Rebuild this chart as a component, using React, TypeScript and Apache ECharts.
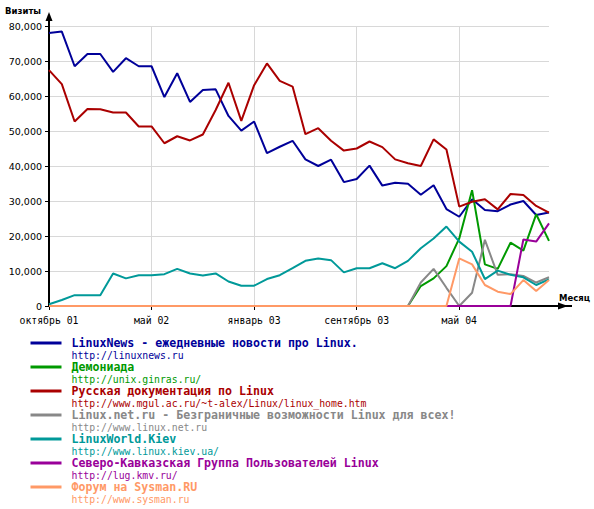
import React, { useEffect, useRef } from "react";
import * as echarts from "echarts";

const categories = [
  "1", "2", "3", "4", "5", "6", "7", "8", "9", "10",
  "11", "12", "13", "14", "15", "16", "17", "18", "19", "20",
  "21", "22", "23", "24", "25", "26", "27", "28", "29", "30",
  "31", "32", "33", "34", "35", "36", "37", "38", "39", "40",
];
const tickIndices = [0, 8, 16, 24, 32];
const tickLabels = ["октябрь 01", "май 02", "январь 03", "сентябрь 03", "май 04"];

const seriesNames = [
  "LinuxNews - ежедневные новости про Linux.",
  "Демониада",
  "Русская документация по Linux",
  "Linux.net.ru - Безграничные возможности Linux для всех!",
  "LinuxWorld.Kiev",
  "Северо-Кавказская Группа Пользователей Linux",
  "Форум на Sysman.RU",
];
const seriesUrls = [
  "http://linuxnews.ru",
  "http://unix.ginras.ru/",
  "http://www.mgul.ac.ru/~t-alex/Linux/linux_home.htm",
  "http://www.linux.net.ru",
  "http://www.linux.kiev.ua/",
  "http://lug.kmv.ru/",
  "http://www.sysman.ru",
];
const seriesColors = ["#000099", "#009900", "#aa0000", "#888888", "#009999", "#990099", "#ff9966"];

const linuxNews = [78000, 78400, 68500, 72000, 72000, 66900, 70800, 68500, 68500, 59700, 66500, 58300, 61700, 61900, 54300, 50100, 52700, 43700, 45500, 47200, 41900, 40000, 41800, 35400, 36300, 40100, 34400, 35200, 34900, 31800, 34500, 27700, 25500, 30500, 27400, 27100, 29000, 30000, 26000, 26700];
const demoniada = [0, 0, 0, 0, 0, 0, 0, 0, 0, 0, 0, 0, 0, 0, 0, 0, 0, 0, 0, 0, 0, 0, 0, 0, 0, 0, 0, 0, 0, 5700, 7900, 11400, 19300, 33100, 11900, 10600, 18100, 15800, 26200, 18600];
const russianDocs = [67400, 63400, 52700, 56300, 56200, 55300, 55300, 51300, 51300, 46500, 48500, 47300, 49000, 56000, 63800, 52900, 63100, 69300, 64300, 62700, 49100, 50800, 47200, 44400, 45000, 47000, 45400, 41900, 40800, 40000, 47600, 44700, 28400, 29800, 30500, 27600, 32000, 31700, 28600, 26700];
const linuxNetRu = [0, 0, 0, 0, 0, 0, 0, 0, 0, 0, 0, 0, 0, 0, 0, 0, 0, 0, 0, 0, 0, 0, 0, 0, 0, 0, 0, 0, 0, 6700, 10600, 5200, 0, 3800, 18900, 8900, 9100, 8600, 6700, 8200];
const linuxWorldKiev = [500, 1700, 3100, 3100, 3100, 9300, 7900, 8800, 8800, 9100, 10600, 9300, 8700, 9300, 7000, 5800, 5800, 7700, 8800, 10800, 12900, 13600, 13100, 9600, 10800, 10800, 12200, 10800, 12900, 16500, 19300, 22700, 18400, 15500, 7700, 10100, 8900, 8200, 6000, 7600];
const kmvLug = [0, 0, 0, 0, 0, 0, 0, 0, 0, 0, 0, 0, 0, 0, 0, 0, 0, 0, 0, 0, 0, 0, 0, 0, 0, 0, 0, 0, 0, 0, 0, 0, 0, 0, 0, 0, 0, 19000, 18400, 23600];
const sysman = [0, 0, 0, 0, 0, 0, 0, 0, 0, 0, 0, 0, 0, 0, 0, 0, 0, 0, 0, 0, 0, 0, 0, 0, 0, 0, 0, 0, 0, 0, 0, 0, 13600, 11900, 6000, 4100, 3400, 7400, 4300, 7400];

const seriesValues = [linuxNews, demoniada, russianDocs, linuxNetRu, linuxWorldKiev, kmvLug, sysman];

const MONO = "DejaVu Sans Mono";
const SANS = "DejaVu Sans";

export default function App() {
  const ref = useRef<HTMLDivElement>(null);
  useEffect(() => {
    document.body.style.margin = "0";
    if (!ref.current) return;
    const chart = echarts.init(ref.current, null, { renderer: "svg" });
    const rich: Record<string, any> = {};
    seriesColors.forEach((c, i) => {
      rich["t" + i] = { fontFamily: MONO, fontWeight: "bold", fontSize: 11.6, lineHeight: 12, color: c };
      rich["u" + i] = { fontFamily: MONO, fontSize: 9.8, lineHeight: 12, color: c };
    });
    chart.setOption({
      animation: false,
      backgroundColor: "#ffffff",
      grid: { left: 49, top: 26, right: 45, bottom: 203, containLabel: false },
      xAxis: {
        type: "category",
        data: categories,
        boundaryGap: false,
        axisLine: { show: true, lineStyle: { color: "#000", width: 2 } },
        axisTick: {
          show: true,
          length: 4,
          interval: (index: number) => tickIndices.includes(index),
          lineStyle: { color: "#000", width: 1 },
        },
        axisLabel: {
          interval: (index: number) => tickIndices.includes(index),
          formatter: (_v: string, index: number) => {
            const k = tickIndices.indexOf(index);
            return k >= 0 ? tickLabels[k] : "";
          },
          fontFamily: MONO,
          fontSize: 9.8,
          color: "#000",
          margin: 9,
        },
        splitLine: {
          show: true,
          interval: (index: number) => tickIndices.includes(index) && index > 0,
          lineStyle: { color: "#d8d8d8", width: 1 },
        },
      },
      yAxis: {
        type: "value",
        min: 0,
        max: 80000,
        interval: 10000,
        axisLine: { show: true, lineStyle: { color: "#000", width: 2 } },
        axisTick: { show: true, length: 4, lineStyle: { color: "#000", width: 1 } },
        axisLabel: { fontFamily: SANS, fontSize: 9.5, color: "#000", margin: 7 },
        splitLine: { show: true, lineStyle: { color: "#d8d8d8", width: 1 } },
      },
      legend: {
        orient: "vertical",
        left: 29,
        top: 337,
        padding: 0,
        itemWidth: 31,
        itemHeight: 2,
        itemGap: 1,
        selectedMode: false,
        lineStyle: { width: 3 },
        data: seriesNames.map((n) => ({ name: n })),
        formatter: (name: string) => {
          const i = seriesNames.indexOf(name);
          return `{t${i}|${name}}\n{u${i}|${seriesUrls[i]}}`;
        },
        textStyle: { padding: [12, 0, 0, 5], rich },
      },
      graphic: [
        { type: "line", shape: { x1: 49, y1: 27, x2: 49, y2: 16 }, style: { stroke: "#000", lineWidth: 2 } },
        { type: "polygon", shape: { points: [[45.5, 21], [49, 12], [52.5, 21]] }, style: { fill: "#000" } },
        { type: "line", shape: { x1: 548, y1: 306, x2: 572, y2: 306 }, style: { stroke: "#000", lineWidth: 2 } },
        { type: "polygon", shape: { points: [[558, 302.5], [568, 306], [558, 309.5]] }, style: { fill: "#000" } },
        {
          type: "text",
          x: 41,
          y: 11,
          style: { text: "Визиты", font: `bold 8.5px "${SANS}"`, fill: "#000", align: "right", verticalAlign: "middle" },
        },
        {
          type: "text",
          x: 559,
          y: 298,
          style: { text: "Месяц", font: `bold 8.5px "${SANS}"`, fill: "#000", align: "left", verticalAlign: "middle" },
        },
      ],
      series: seriesNames.map((n, i) => ({
        name: n,
        type: "line",
        data: seriesValues[i],
        symbol: "none",
        showSymbol: false,
        color: seriesColors[i],
        lineStyle: { color: seriesColors[i], width: 2 },
        z: 2 + i,
      })),
    });
    return () => chart.dispose();
  }, []);
  return <div ref={ref} style={{ width: 594, height: 509 }} />;
}
